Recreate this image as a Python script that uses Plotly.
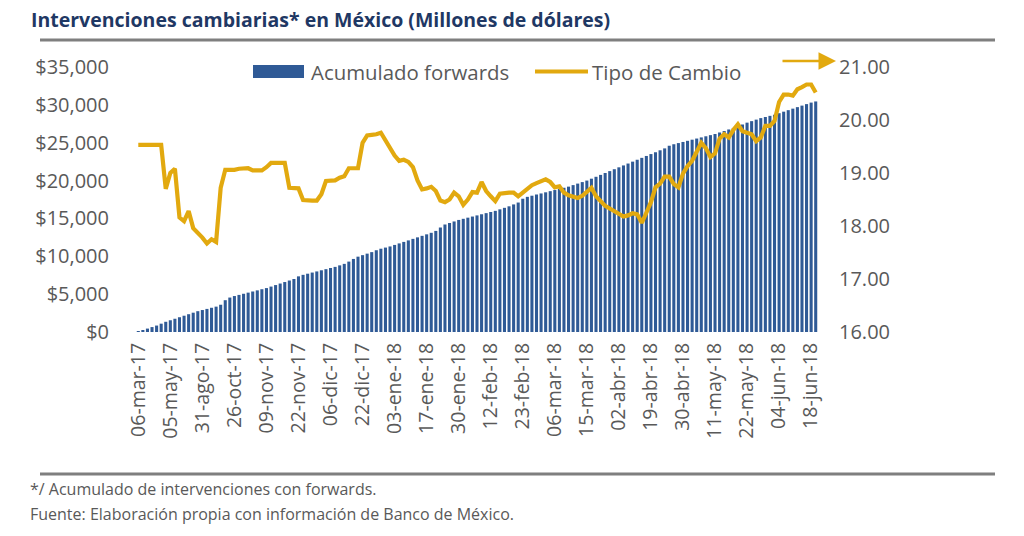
import plotly.graph_objects as go

# ---------------- data ----------------
tick_labels = [
    "06-mar-17", "05-may-17", "31-ago-17", "26-oct-17", "09-nov-17", "22-nov-17",
    "06-dic-17", "22-dic-17", "03-ene-18", "17-ene-18", "30-ene-18", "12-feb-18",
    "23-feb-18", "06-mar-18", "15-mar-18", "02-abr-18", "19-abr-18", "30-abr-18",
    "11-may-18", "22-may-18", "04-jun-18", "18-jun-18",
]
label_step = 7  # one label every 7 observations

acumulado_forwards = [
    100, 250, 450, 650, 850, 1100, 1350, 1550, 1750, 1950,
    2150, 2350, 2550, 2750, 2900, 3050, 3200, 3350, 3600, 4200,
    4550, 4750, 4900, 5050, 5200, 5350, 5500, 5650, 5800, 6000,
    6200, 6400, 6600, 6800, 7000, 7350, 7550, 7700, 7850, 8000,
    8150, 8300, 8450, 8600, 8800, 9000, 9300, 9650, 9950, 10150,
    10350, 10550, 10800, 11000, 11150, 11300, 11500, 11700, 11900, 12100,
    12300, 12500, 12700, 12900, 13100, 13350, 13800, 14200, 14400, 14600,
    14800, 14950, 15100, 15250, 15400, 15550, 15700, 15850, 16000, 16200,
    16400, 16600, 16850, 17100, 17600, 17850, 18000, 18150, 18300, 18450,
    18600, 18750, 18900, 19050, 19200, 19400, 19600, 19800, 20000, 20250,
    20500, 20750, 21000, 21250, 21500, 21750, 22000, 22250, 22500, 22750,
    23000, 23250, 23500, 23750, 24000, 24250, 24600, 24800, 24950, 25100,
    25250, 25400, 25550, 25700, 25850, 26000, 26150, 26350, 26550, 26750,
    26950, 27150, 27400, 27650, 27850, 28050, 28250, 28400, 28550, 28700,
    28900, 29100, 29300, 29500, 29700, 29900, 30100, 30300, 30450,
]

tipo_de_cambio = [
    19.53, 19.53, 19.53, 19.53, 19.53, 19.53, 18.70, 19.00, 19.08, 18.16,
    18.09, 18.28, 17.96, 17.88, 17.78, 17.67, 17.75, 17.70, 18.72, 19.06,
    19.06, 19.06, 19.08, 19.09, 19.09, 19.05, 19.05, 19.05, 19.11, 19.19,
    19.19, 19.19, 19.19, 18.72, 18.72, 18.71, 18.49, 18.48, 18.48, 18.48,
    18.60, 18.85, 18.86, 18.86, 18.91, 18.94, 19.09, 19.09, 19.09, 19.57,
    19.71, 19.72, 19.73, 19.76, 19.62, 19.47, 19.33, 19.23, 19.25, 19.21,
    19.11, 18.86, 18.69, 18.71, 18.74, 18.66, 18.48, 18.45, 18.50, 18.63,
    18.56, 18.40, 18.50, 18.64, 18.63, 18.83, 18.66, 18.56, 18.47, 18.61,
    18.63, 18.63, 18.63, 18.56, 18.63, 18.71, 18.77, 18.81, 18.85, 18.88,
    18.83, 18.73, 18.75, 18.63, 18.58, 18.56, 18.53, 18.57, 18.65, 18.72,
    18.56, 18.46, 18.38, 18.33, 18.28, 18.22, 18.18, 18.20, 18.24, 18.22,
    18.06, 18.25, 18.45, 18.73, 18.80, 18.93, 18.93, 18.79, 18.73, 18.99,
    19.13, 19.23, 19.42, 19.57, 19.47, 19.30, 19.37, 19.65, 19.73, 19.67,
    19.81, 19.92, 19.79, 19.75, 19.73, 19.60, 19.67, 19.89, 19.89, 19.98,
    20.34, 20.48, 20.48, 20.46, 20.58, 20.62, 20.67, 20.67, 20.52,
]

idx = list(range(len(acumulado_forwards)))
tick_positions = idx[::label_step][:len(tick_labels)]

BLUE = "#2F5A96"
GOLD = "#E2A90F"
GRAY = "#595959"
NAVY = "#1F3864"
FONT = "Open Sans"

fig = go.Figure()
fig.add_trace(go.Bar(
    x=idx, y=acumulado_forwards, name="Acumulado forwards",
    marker=dict(color=BLUE, line=dict(width=0)), showlegend=False,
))
fig.add_trace(go.Scatter(
    x=idx, y=tipo_de_cambio, name="Tipo de Cambio", yaxis="y2",
    mode="lines", line=dict(color=GOLD, width=4.2), showlegend=False,
))

# plot area geometry (px) used to convert paper coordinates
L, R, T, B = 136, 818, 67, 332
W, H = R - L, B - T
def px(xp):
    return (xp - L) / W
def py(yp):
    return (B - yp) / H

shapes = [
    # rules
    dict(type="line", xref="paper", yref="paper", x0=px(40), x1=px(995), y0=py(40), y1=py(40),
         line=dict(color="#7F7F7F", width=3)),
    dict(type="line", xref="paper", yref="paper", x0=px(40), x1=px(995), y0=py(474), y1=py(474),
         line=dict(color="#7F7F7F", width=3)),
    # legend symbols
    dict(type="rect", xref="paper", yref="paper", x0=px(253), x1=px(304), y0=py(78), y1=py(65),
         fillcolor=BLUE, line=dict(width=0)),
    dict(type="line", xref="paper", yref="paper", x0=px(535), x1=px(588), y0=py(71.5), y1=py(71.5),
         line=dict(color=GOLD, width=4.2)),
]

annotations = [
    dict(text="<b>Intervenciones cambiarias* en México (Millones de dólares)</b>",
         xref="paper", yref="paper", x=px(29), y=py(19), xanchor="left", yanchor="middle",
         showarrow=False, font=dict(family=FONT, size=19.5, color=NAVY)),
    dict(text="Acumulado forwards", xref="paper", yref="paper", x=px(309), y=py(71.5),
         xanchor="left", yanchor="middle", showarrow=False,
         font=dict(family=FONT, size=20.4, color=GRAY)),
    dict(text="Tipo de Cambio", xref="paper", yref="paper", x=px(590), y=py(71.5),
         xanchor="left", yanchor="middle", showarrow=False,
         font=dict(family=FONT, size=20.5, color=GRAY)),
    dict(text="*/ Acumulado de intervenciones con forwards.", xref="paper", yref="paper",
         x=px(28), y=py(489), xanchor="left", yanchor="middle", showarrow=False,
         font=dict(family=FONT, size=16, color=GRAY)),
    dict(text="Fuente: Elaboración propia con información de Banco de México.", xref="paper",
         yref="paper", x=px(28), y=py(514), xanchor="left", yanchor="middle", showarrow=False,
         font=dict(family=FONT, size=16, color=GRAY)),
    # arrow pointing to right axis
    dict(text="", xref="paper", yref="paper", x=px(836), y=py(61), ax=-55, ay=0,
         showarrow=True, arrowhead=2, arrowsize=1.4, arrowwidth=2.5, arrowcolor=GOLD),
]

fig.update_layout(
    width=1024, height=536,
    margin=dict(l=L, r=1024 - R, t=T, b=536 - B, pad=0),
    paper_bgcolor="white", plot_bgcolor="white",
    bargap=0.33,
    font=dict(family=FONT, color=GRAY),
    xaxis=dict(range=[-0.5, len(idx) - 0.5], tickmode="array", tickvals=tick_positions,
               ticktext=tick_labels, tickangle=-90, showgrid=False, zeroline=False,
               showline=False, ticks="", ticklabelstandoff=6,
               tickfont=dict(family=FONT, size=19.5, color=GRAY)),
    yaxis=dict(range=[0, 35000], dtick=5000, tickformat="$,.0f", showgrid=False,
               zeroline=False, showline=False, ticks="", ticklabelstandoff=26,
               tickfont=dict(family=FONT, size=20, color=GRAY)),
    yaxis2=dict(range=[16, 21], dtick=1, tickformat=".2f", overlaying="y", side="right",
                showgrid=False, zeroline=False, showline=False, ticks="", ticklabelstandoff=20,
                tickfont=dict(family=FONT, size=20, color=GRAY)),
    shapes=shapes, annotations=annotations,
)

fig.write_html("out.html", config={"displayModeBar": False},
               post_script="document.body.style.margin='0px';")
